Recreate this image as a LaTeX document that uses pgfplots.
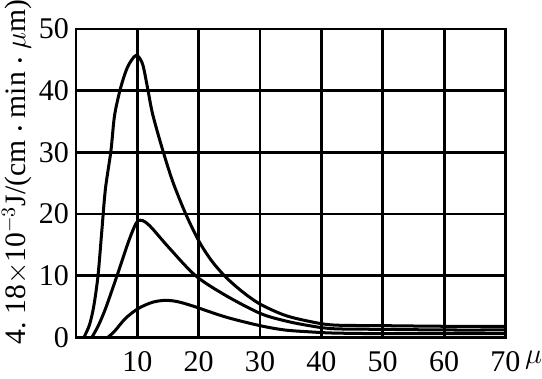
\documentclass[border=0pt]{standalone}
\usepackage{pgfplots}
\pgfplotsset{compat=1.18}
\usepackage{fontspec}
\setmainfont{Liberation Serif}
\begin{document}
\begin{tikzpicture}
\begin{axis}[
  scale only axis,
  width=214.5pt, height=154pt,
  xmin=0, xmax=70, ymin=0, ymax=50,
  xtick={10,20,30,40,50,60,70},
  ytick={0,10,20,30,40,50},
  grid=major,
  major grid style={black, line width=1.4pt},
  axis line style={black, line width=1.4pt},
  major tick length=0pt,
  /pgf/number format/assume math mode=true,
  tick label style={font=\fontsize{15}{17}\selectfont},
  xticklabel style={yshift=-3.5pt},
  yticklabel style={xshift=0pt},
  clip=false,
]
\addplot[black, line width=1.5pt, smooth, tension=0.5] coordinates {
(1.3,0) (2.2,2) (2.9,5) (3.6,10) (4.2,17) (4.8,24) (5.7,30.2) (6.3,36) (7.3,40.5) (8.4,43.8) (9.5,45.5) (10.1,45.6) (10.9,44.2) (11.7,40.3) (12.5,36.2) (14.1,30.5) (15.8,25.2) (17.9,20) (20.1,15.5) (22.2,12.3) (24.4,9.8) (27,7.5) (30,5.4) (34,3.6) (38,2.6) (42,2.0) (50,1.9) (60,1.8) (70,1.8)
};
\addplot[black, line width=1.5pt, smooth, tension=0.5] coordinates {
(2.6,0) (3.6,1.8) (4.8,4.6) (6.7,10) (8.6,15.6) (9.8,18.5) (10.5,19) (11.3,18.7) (12.4,17.7) (15.2,14.5) (19.5,10) (24.4,6.8) (30,3.9) (34,2.7) (38,1.9) (42,1.4) (50,1.3) (60,1.2) (70,1.2)
};
\addplot[black, line width=1.5pt, smooth, tension=0.5] coordinates {
(5.2,0) (6.3,1.0) (8.1,3.1) (10.2,4.7) (12.5,5.7) (14.6,6.0) (16.5,5.8) (19,5.1) (24.4,3.3) (30,1.9) (34,1.2) (38,0.9) (42,0.7) (50,0.6) (60,0.6) (70,0.6)
};
\node[rotate=90, anchor=center, inner xsep=0pt, inner ysep=1pt, font=\fontsize{14.8}{17}\selectfont] at ([xshift=-29.5pt]rel axis cs:0,0.535) {4.\;18$\times$10$^{-3}$J/(cm\;{\footnotesize\textbullet}\;min\;{\footnotesize\textbullet}\;$\mu$m)};
\node[anchor=north, inner sep=0pt, font=\fontsize{15}{17}\selectfont] at ([xshift=14pt,yshift=-6.5pt]rel axis cs:1,0) {$\mu$};
\end{axis}
\end{tikzpicture}
\end{document}
